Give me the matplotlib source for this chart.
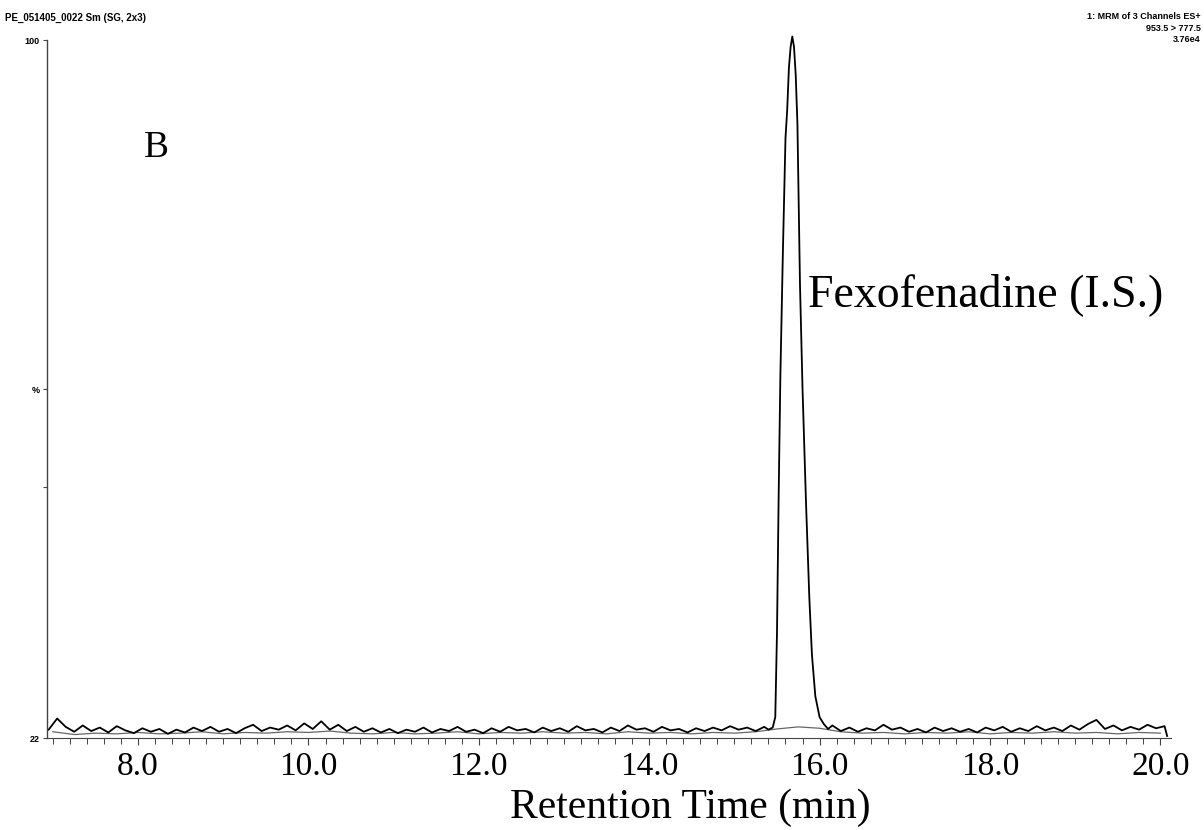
import numpy as np
import matplotlib
matplotlib.use('Agg')
import matplotlib.pyplot as plt

# raw MRM trace (%), baseline before peak, every 0.1 min from 6.95
base_left = [1.2, 2.8, 1.6, 0.9, 1.8, 1.0, 1.5, 0.8, 1.7, 1.1,
             0.7, 1.4, 0.9, 1.3, 0.6, 1.2, 0.8, 1.5, 1.0, 1.6,
             0.9, 1.3, 0.7, 1.4, 1.9, 1.0, 1.5, 1.2, 1.8, 1.1,
             2.1, 1.3, 2.4, 1.2, 1.9, 1.0, 1.6, 0.9, 1.4, 0.8,
             1.3, 0.7, 1.2, 0.9, 1.5, 0.8, 1.3, 1.0, 1.6, 0.9,
             1.2, 0.7, 1.4, 0.9, 1.6, 1.1, 1.3, 0.8, 1.5, 1.0,
             1.4, 0.9, 1.7, 1.1, 1.3, 0.8, 1.5, 1.0, 1.8, 1.2,
             1.4, 0.9, 1.6, 1.1, 1.3, 0.8, 1.4, 1.0, 1.5, 1.1,
             1.7, 1.2, 1.5, 1.0, 1.6]
# Fexofenadine peak
peak_t = [15.40, 15.45, 15.48, 15.50, 15.52, 15.54, 15.57, 15.60, 15.62, 15.64,
          15.66, 15.68, 15.70, 15.72, 15.74, 15.77, 15.80, 15.84, 15.88, 15.91,
          15.95, 16.00, 16.05, 16.10]
peak_v = [1.2, 1.5, 3.0, 15.0, 35.0, 52.0, 70.0, 86.0, 90.0, 96.0,
          99.0, 100.5, 99.0, 95.0, 88.0, 65.0, 50.0, 34.0, 20.0, 12.0,
          6.0, 3.0, 2.0, 1.3]
# baseline after peak, every 0.1 min from 16.15
base_right = [1.8, 1.0, 1.5, 0.9, 1.4, 1.1, 1.9, 1.2, 1.5, 0.9,
              1.3, 0.8, 1.5, 1.0, 1.4, 0.9, 1.3, 0.8, 1.5, 1.1,
              1.6, 0.9, 1.4, 1.0, 1.7, 1.1, 1.5, 1.0, 1.8, 1.2,
              2.0, 2.6, 1.3, 1.8, 1.1, 1.6, 1.2, 1.9, 1.4, 1.7]
end_t, end_v = 20.08, 0.3

# second (smooth) channel, every 0.25 min from 7.0
smooth_v = [0.9, 0.5, 0.7, 0.6,
            0.8, 0.6, 0.7, 0.9,
            0.6, 0.8, 0.7, 0.9,
            0.8, 1.0, 0.7, 0.6,
            0.8, 0.6, 0.7, 0.9,
            0.6, 0.8, 0.7, 0.9,
            0.7, 0.8, 0.6, 0.9,
            0.7, 0.8, 0.6, 0.8,
            0.7, 0.9, 1.3, 1.6,
            1.4, 0.9, 0.7, 0.8,
            0.6, 0.8, 0.7, 0.9,
            0.6, 0.8, 0.7, 0.9,
            0.7, 0.8, 0.6, 0.8,
            0.7]

t_left = 6.95 + 0.1 * np.arange(len(base_left))
t_right = 16.15 + 0.1 * np.arange(len(base_right))
raw_t = np.concatenate([t_left, peak_t, t_right, [end_t]])
raw_v = np.concatenate([base_left, peak_v, base_right, [end_v]])
smooth_t = 7.0 + 0.25 * np.arange(len(smooth_v))

serif = 'Liberation Serif'
sans = 'Liberation Sans'

fig = plt.figure(figsize=(12.04, 8.30), dpi=100)
ax = fig.add_axes([0.039, 0.1108, 0.9332, 0.841])

ax.plot(smooth_t, smooth_v, color='#666666', lw=0.9, clip_on=False)
ax.plot(raw_t, raw_v, color='black', lw=1.3, clip_on=False)

ax.set_xlim(6.93, 20.12)
ax.set_ylim(0, 100)

for s in ['top', 'right']:
    ax.spines[s].set_visible(False)
ax.spines['left'].set_color('#444444')
ax.spines['bottom'].set_color('#444444')
ax.spines['left'].set_linewidth(1.0)
ax.spines['bottom'].set_linewidth(0.8)

ax.set_xticks(np.arange(8, 20.1, 2))
ax.set_xticklabels(['8.0', '10.0', '12.0', '14.0', '16.0', '18.0', '20.0'],
                   fontfamily=serif, fontsize=24)
ax.set_xticks(np.arange(7.0, 20.11, 0.2), minor=True)
ax.tick_params(axis='x', which='major', direction='out', length=5, width=0.8, pad=5, color='#444444')
ax.tick_params(axis='x', which='minor', direction='out', length=4, width=0.7, color='#444444')

ax.set_yticks([0, 36, 50, 100])
ax.set_yticklabels(['22', '', '%', '100'], fontfamily=sans, fontsize=6.5, fontweight='bold')
ax.tick_params(axis='y', direction='out', length=3, width=0.8, pad=2, color='#444444')

fig.text(690 / 1204, 1 - 808 / 830, 'Retention Time (min)', fontfamily=serif, fontsize=30,
         ha='center', va='center')

fig.text(0.004, 0.978, 'PE_051405_0022 Sm (SG, 2x3)', fontfamily=sans, fontsize=7,
         fontweight='bold', ha='left', va='center')
fig.text(0.997, 0.980, '1: MRM of 3 Channels ES+', fontfamily=sans, fontsize=6.5,
         fontweight='bold', ha='right', va='center')
fig.text(0.997, 0.966, '953.5 > 777.5', fontfamily=sans, fontsize=6.5,
         fontweight='bold', ha='right', va='center')
fig.text(0.997, 0.953, '3.76e4', fontfamily=sans, fontsize=6.5,
         fontweight='bold', ha='right', va='center')

ax.text(8.07, 84.5, 'B', fontfamily=serif, fontsize=27, ha='left', va='center')
ax.text(15.86, 63.5, 'Fexofenadine (I.S.)', fontfamily=serif, fontsize=33, ha='left', va='center')

fig.savefig('out.png', dpi=100)
